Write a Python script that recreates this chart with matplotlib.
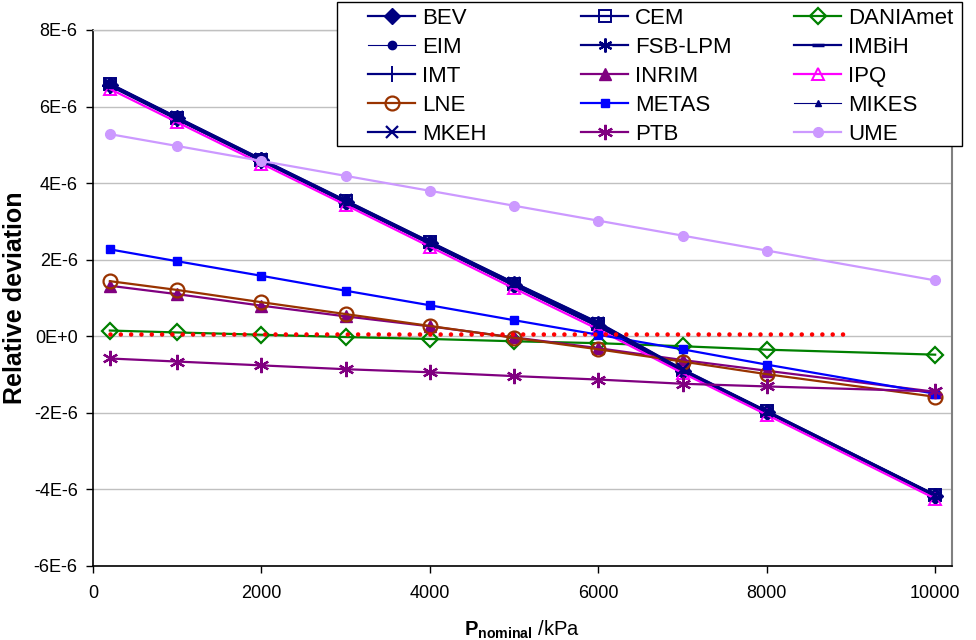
import matplotlib
matplotlib.use("Agg")
import matplotlib.pyplot as plt
from matplotlib.patches import Rectangle

plt.rcParams['font.family'] = ['Liberation Sans', 'DejaVu Sans']
plt.rcParams['mathtext.fontset'] = 'custom'
plt.rcParams['mathtext.rm'] = 'Liberation Sans'
plt.rcParams['mathtext.bf'] = 'Liberation Sans:bold'

# ---- data (relative deviation in units of 1E-6) ----
pressure = [200, 1000, 2000, 3000, 4000, 5000, 6000, 7000, 8000, 10000]

BEV      = [6.56, 5.69, 4.60, 3.51, 2.43, 1.35, 0.28, -0.90, -1.97, -4.16]
CEM      = [6.58, 5.70, 4.61, 3.53, 2.45, 1.37, 0.32, -0.88, -1.96, -4.15]
DANIAmet = [0.15, 0.10, 0.04, -0.02, -0.07, -0.13, -0.18, -0.26, -0.35, -0.48]
EIM      = [6.56, 5.67, 4.59, 3.51, 2.43, 1.34, 0.27, -0.90, -1.98, -4.17]
FSB_LPM  = [6.59, 5.71, 4.62, 3.54, 2.46, 1.39, 0.35, -0.87, -1.96, -4.15]
IMBiH    = [6.54, 5.66, 4.58, 3.49, 2.41, 1.32, 0.25, -0.91, -1.99, -4.18]
IMT      = [6.55, 5.67, 4.58, 3.50, 2.42, 1.33, 0.26, -0.90, -1.98, -4.17]
INRIM    = [1.32, 1.10, 0.80, 0.52, 0.26, -0.03, -0.31, -0.62, -0.90, -1.45]
IPQ      = [6.46, 5.59, 4.51, 3.43, 2.34, 1.25, 0.18, -0.96, -2.05, -4.24]
LNE      = [1.44, 1.21, 0.89, 0.58, 0.27, -0.04, -0.34, -0.66, -0.99, -1.58]
METAS    = [2.27, 1.96, 1.58, 1.19, 0.81, 0.42, 0.04, -0.34, -0.74, -1.50]
MIKES    = [6.57, 5.69, 4.60, 3.52, 2.44, 1.36, 0.30, -0.89, -1.97, -4.16]
MKEH     = [6.60, 5.72, 4.63, 3.55, 2.47, 1.40, 0.36, -0.86, -1.95, -4.14]
PTB      = [-0.58, -0.66, -0.76, -0.86, -0.94, -1.04, -1.13, -1.24, -1.31, -1.44]
UME      = [5.28, 4.97, 4.58, 4.19, 3.80, 3.41, 3.02, 2.63, 2.24, 1.46]

ref_x = [200, 9000]
ref_y = [0.06, 0.06]

x_ticks = [0, 2000, 4000, 6000, 8000, 10000]
y_ticks = [-6, -4, -2, 0, 2, 4, 6, 8]
y_tick_labels = ['-6E-6', '-4E-6', '-2E-6', '0E+0', '2E-6', '4E-6', '6E-6', '8E-6']

labels = ['BEV', 'CEM', 'DANIAmet', 'EIM', 'FSB-LPM', 'IMBiH', 'IMT', 'INRIM',
          'IPQ', 'LNE', 'METAS', 'MIKES', 'MKEH', 'PTB', 'UME']
series = [BEV, CEM, DANIAmet, EIM, FSB_LPM, IMBiH, IMT, INRIM,
          IPQ, LNE, METAS, MIKES, MKEH, PTB, UME]

navy = '#000080'
asterisk = (6, 2, 0)
styles = {
    'BEV':      dict(color=navy, marker='D', ms=8, mfc=navy, mec=navy, lw=1.6),
    'CEM':      dict(color=navy, marker='s', ms=8, mfc='none', mec=navy, mew=1.4, lw=1.6),
    'DANIAmet': dict(color='#008000', marker='D', ms=8, mfc='none', mec='#008000', mew=1.6, lw=1.6),
    'EIM':      dict(color=navy, marker='o', ms=6, mfc=navy, mec=navy, lw=0.8),
    'FSB-LPM':  dict(color=navy, marker=asterisk, ms=10, mec=navy, mew=1.6, lw=1.6),
    'IMBiH':    dict(color=navy, marker='_', ms=8, mec=navy, mew=2.5, lw=1.6),
    'IMT':      dict(color=navy, marker='+', ms=11, mec=navy, mew=1.4, lw=1.6),
    'INRIM':    dict(color='#800080', marker='^', ms=8, mfc='#800080', mec='#800080', lw=1.6),
    'IPQ':      dict(color='#FF00FF', marker='^', ms=9, mfc='none', mec='#FF00FF', mew=1.4, lw=1.6),
    'LNE':      dict(color='#993300', marker='o', ms=10, mfc='none', mec='#993300', mew=1.6, lw=1.6),
    'METAS':    dict(color='#0000FF', marker='s', ms=6, mfc='#0000FF', mec='#0000FF', lw=1.6),
    'MIKES':    dict(color=navy, marker='^', ms=5, mfc=navy, mec=navy, lw=0.8),
    'MKEH':     dict(color=navy, marker='x', ms=9, mec=navy, mew=1.6, lw=1.6),
    'PTB':      dict(color='#800080', marker=asterisk, ms=11, mec='#800080', mew=1.6, lw=1.6),
    'UME':      dict(color='#CC99FF', marker='o', ms=7, mfc='#CC99FF', mec='#CC99FF', lw=1.6),
}

W, H = 976, 640
fig = plt.figure(figsize=(W/100, H/100), dpi=100)
ax = fig.add_axes([93/W, 1-566/H, (952-93)/W, (566-30)/H])

handles = {}
for lab, ys in zip(labels, series):
    h, = ax.plot(pressure, ys, label=lab, **styles[lab])
    handles[lab] = h

ax.plot(ref_x, ref_y, color='#FF0000', lw=3.3, linestyle=(0, (0.001, 2.25)),
        dash_capstyle='round')

ax.set_xlim(0, 10200)
ax.set_ylim(-6, 8)
ax.set_xticks(x_ticks)
ax.set_xticklabels([str(t) for t in x_ticks])
ax.set_yticks(y_ticks)
ax.set_yticklabels(y_tick_labels)
ax.tick_params(axis='both', direction='out', length=5, width=1, labelsize=13)
ax.tick_params(axis='x', pad=9)
ax.tick_params(axis='y', pad=6)
ax.yaxis.grid(True, color='#C0C0C0', lw=1)
ax.set_axisbelow(True)
for s in ['left', 'bottom']:
    ax.spines[s].set_color('black')
    ax.spines[s].set_linewidth(1.2)
ax.spines['top'].set_color('#C0C0C0')
ax.spines['top'].set_linewidth(1.0)
ax.spines['right'].set_color('#808080')
ax.spines['right'].set_linewidth(1.5)

ax.set_ylabel('Relative deviation', fontsize=18, fontweight='bold', labelpad=5)
ax.set_xlabel(r'$\mathbf{P}_{\mathbf{nominal}}$ /kPa', fontsize=14.5, labelpad=12)

# legend frame
frame = Rectangle((337/W, 1-146/H), (962-337)/W, 144/H, transform=fig.transFigure,
                  facecolor='white', edgecolor='black', lw=1.0, zorder=4)
fig.add_artist(frame)

# legend: 3 columns with fixed pitch, entries in row-wise order
ncol = 3
nrow = 5
col_x = [368, 581, 794]
for c in range(ncol):
    col_labels = [labels[r * ncol + c] for r in range(nrow)]
    lg = fig.legend([handles[l] for l in col_labels], col_labels,
                    loc='upper left', bbox_to_anchor=(col_x[c]/W, 1-8/H),
                    fontsize=16, frameon=False, labelspacing=0.36,
                    handlelength=2.12, handletextpad=0.32, borderaxespad=0,
                    borderpad=0)
    lg.set_zorder(5)

fig.savefig('out.png', dpi=100)
